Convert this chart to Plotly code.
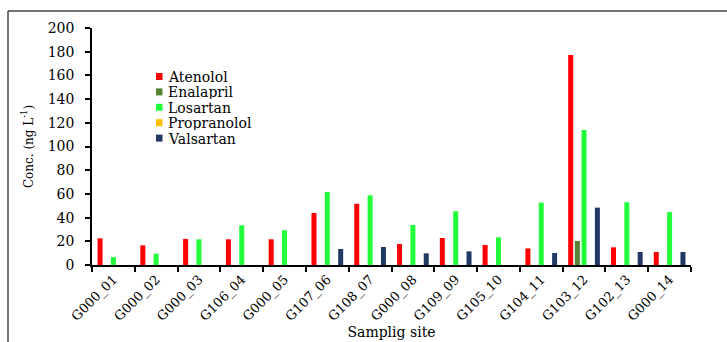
import plotly.graph_objects as go

sites = ["G000_01", "G000_02", "G000_03", "G106_04", "G000_05", "G107_06", "G108_07",
         "G000_08", "G109_09", "G105_10", "G104_11", "G103_12", "G102_13", "G000_14"]
atenolol = [22.5, 16.6, 22.0, 21.7, 21.7, 43.9, 51.7, 17.7, 22.8, 16.9, 14.0, 177.2, 14.9, 11.0]
enalapril = [0, 0, 0, 0, 0, 0, 0, 0, 0, 0, 0, 20.3, 0, 0]
losartan = [6.7, 9.6, 21.7, 33.5, 29.3, 61.6, 58.8, 33.8, 45.3, 23.4, 52.6, 113.9, 52.9, 44.7]
propranolol = [0, 0, 0, 0, 0, 0, 0, 0, 0, 0, 0, 0, 0, 0]
valsartan = [0, 0, 0, 0, 0, 13.5, 15.2, 9.8, 11.5, 0, 10.1, 48.4, 11.0, 11.0]

series_names = ["Atenolol", "Enalapril", "Losartan", "Propranolol", "Valsartan"]
series_values = [atenolol, enalapril, losartan, propranolol, valsartan]
series_colors = ["#FF0000", "#548235", "#22FF3A", "#FFC000", "#1F3864"]

FONT = "DejaVu Serif"

W, H = 727, 342
L, R, T, B = 92, 36, 28, 77
pw, ph = W - L - R, H - T - B


def px_x(x):
    return (x - L) / pw


def px_y(y):
    return 1 - (y - T) / ph


fig = go.Figure()
for name, vals, col in zip(series_names, series_values, series_colors):
    fig.add_trace(go.Bar(x=sites, y=vals, name=name, marker_color=col,
                         marker_line_width=0, showlegend=False))

# legend (drawn as text + swatches to match the compact spacing of the original)
shapes = []
annotations = []
for i, (name, col) in enumerate(zip(series_names, series_colors)):
    cy = 76.5 + i * 15.4
    shapes.append(dict(type="rect", xref="paper", yref="paper",
                       x0=px_x(156), x1=px_x(162.5), y0=px_y(cy - 3.5), y1=px_y(cy + 3.5),
                       fillcolor=col, line=dict(width=0)))
    annotations.append(dict(text=name, xref="paper", yref="paper", x=px_x(167), y=px_y(cy),
                            xanchor="left", yanchor="middle", showarrow=False,
                            height=15, valign="middle", borderpad=0,
                            font=dict(family=FONT, size=14, color="black")))

# outer frame (top and left edges)
shapes.append(dict(type="line", xref="paper", yref="paper",
                   x0=px_x(8), x1=px_x(W), y0=px_y(11), y1=px_y(11),
                   line=dict(color="#444444", width=1.5)))
shapes.append(dict(type="line", xref="paper", yref="paper",
                   x0=px_x(8), x1=px_x(8), y0=px_y(11), y1=px_y(H + 5),
                   line=dict(color="#444444", width=1.5)))

fig.update_layout(
    width=W, height=H,
    margin=dict(l=L, r=R, t=T, b=B),
    paper_bgcolor="white", plot_bgcolor="white",
    barmode="group", bargap=0.22, bargroupgap=0.25,
    font=dict(family=FONT, size=13, color="black"),
    showlegend=False,
    xaxis=dict(showline=True, linecolor="black", linewidth=1.5, ticks="outside",
               tickson="boundaries", ticklen=5, tickcolor="black", tickwidth=1.5,
               tickangle=-45, tickfont=dict(family=FONT, size=13),
               title=dict(text="Samplig site", font=dict(family=FONT, size=14), standoff=4),
               showgrid=False, zeroline=False, automargin=False),
    yaxis=dict(range=[0, 200], dtick=20, showline=True, linecolor="black", linewidth=1.5,
               ticks="outside", ticklen=5, tickcolor="black", tickwidth=1.5,
               tickfont=dict(family=FONT, size=14), ticklabelstandoff=8,
               title=dict(text="Conc. (ng L<sup>-1</sup>)", font=dict(family=FONT, size=12), standoff=12),
               showgrid=False, zeroline=False, automargin=False),
    shapes=shapes,
    annotations=annotations,
)

fig.write_html("out.html", config={"displayModeBar": False},
               post_script="document.body.style.margin='0';document.body.style.overflow='hidden';")
